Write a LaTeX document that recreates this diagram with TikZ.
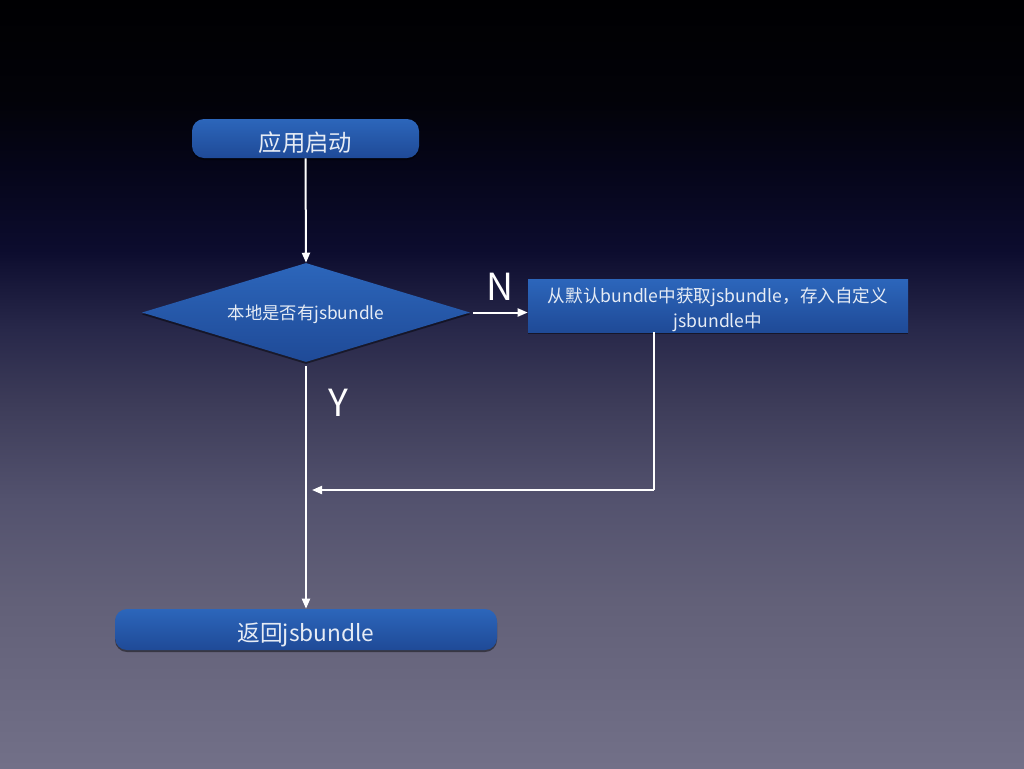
\documentclass[tikz,border=0pt]{standalone}
\usepackage{fontspec}
\setmainfont{Noto Sans CJK SC}
\usetikzlibrary{shapes.geometric,arrows.meta,shadows}
\definecolor{bgA}{HTML}{000002}
\definecolor{bgB}{HTML}{020208}
\definecolor{bgC}{HTML}{06061C}
\definecolor{bgD}{HTML}{0C0C2E}
\definecolor{bgE}{HTML}{28284A}
\definecolor{bgF}{HTML}{3C3B58}
\definecolor{bgG}{HTML}{53526E}
\definecolor{bgH}{HTML}{626078}
\definecolor{bgI}{HTML}{727088}
\definecolor{boxtop}{HTML}{2C66BB}
\definecolor{boxbot}{HTML}{1F4A97}
\definecolor{txt}{HTML}{E6ECF5}
\pgfdeclareverticalshading{bgshade}{100bp}{color(0bp)=(bgI); color(25bp)=(bgI); color(35.94bp)=(bgH); color(42.45bp)=(bgG); color(48.96bp)=(bgF); color(53.52bp)=(bgE); color(58.72bp)=(bgD); color(63.28bp)=(bgC); color(68.49bp)=(bgB); color(75bp)=(bgA); color(100bp)=(bgA)}
\tikzset{
  blue node/.style={top color=boxtop, bottom color=boxbot, draw=none, text=txt, inner sep=0pt,
    drop shadow={shadow xshift=0pt, shadow yshift=-1.5pt, opacity=0.45, fill=black}},
  textshift/.style={text height=#1, text depth=0pt},
  roundbox/.style={blue node, rectangle, rounded corners=9pt},
  squarebox/.style={blue node, rectangle, align=center},
  decision/.style={blue node, diamond, aspect=3.3},
  flow/.style={draw=white, line width=1.5pt, -{Triangle[length=7.5pt,width=6pt]}},
  flowline/.style={draw=white, line width=1.5pt},
  yn/.style={text=white, font=\fontsize{28}{30}\selectfont, inner sep=0pt}
}
\begin{document}
\begin{tikzpicture}[x=0.75pt,y=-0.75pt]
\fill[shading=bgshade] (0,0) rectangle (1024,768);
\useasboundingbox (0,0) rectangle (1024,768);

\node[roundbox, textshift=19.5pt, minimum width=170.25pt, minimum height=29.25pt, font=\fontsize{17.5}{20}\selectfont] (start) at (305.5,138.5) {应用启动};
\node[decision, textshift=10pt, minimum width=246pt, minimum height=74.25pt, font=\fontsize{13}{15}\selectfont] (dec) at (306,312.5) {本地是否有jsbundle};
\node[squarebox, textshift=33pt, minimum width=285pt, minimum height=39.75pt, font=\fontsize{13.2}{18.75}\selectfont] (copy) at (718,305.5) {从默认bundle中获取jsbundle，存入自定义\\jsbundle中};
\node[roundbox, textshift=18pt, minimum width=286.5pt, minimum height=30.75pt, font=\fontsize{17}{20}\selectfont] (ret) at (306,629.5) {返回jsbundle};

\node[yn] (nlabel) at (500,287) {N};
\node[yn] (ylabel) at (338,403) {Y};

\coordinate (corner) at (654,490);
\coordinate (joint) at (312,490);

\draw[flow] (start.south) -- (dec.north);
\draw[flow, shorten <=2pt] (dec.east) -- (dec.east -| copy.west);
\draw[flowline] (copy.south -| corner) -- (corner);
\draw[flow] (corner) -- (joint);
\draw[flow, shorten <=3pt] (dec.south) -- (ret.north);
\end{tikzpicture}
\end{document}
